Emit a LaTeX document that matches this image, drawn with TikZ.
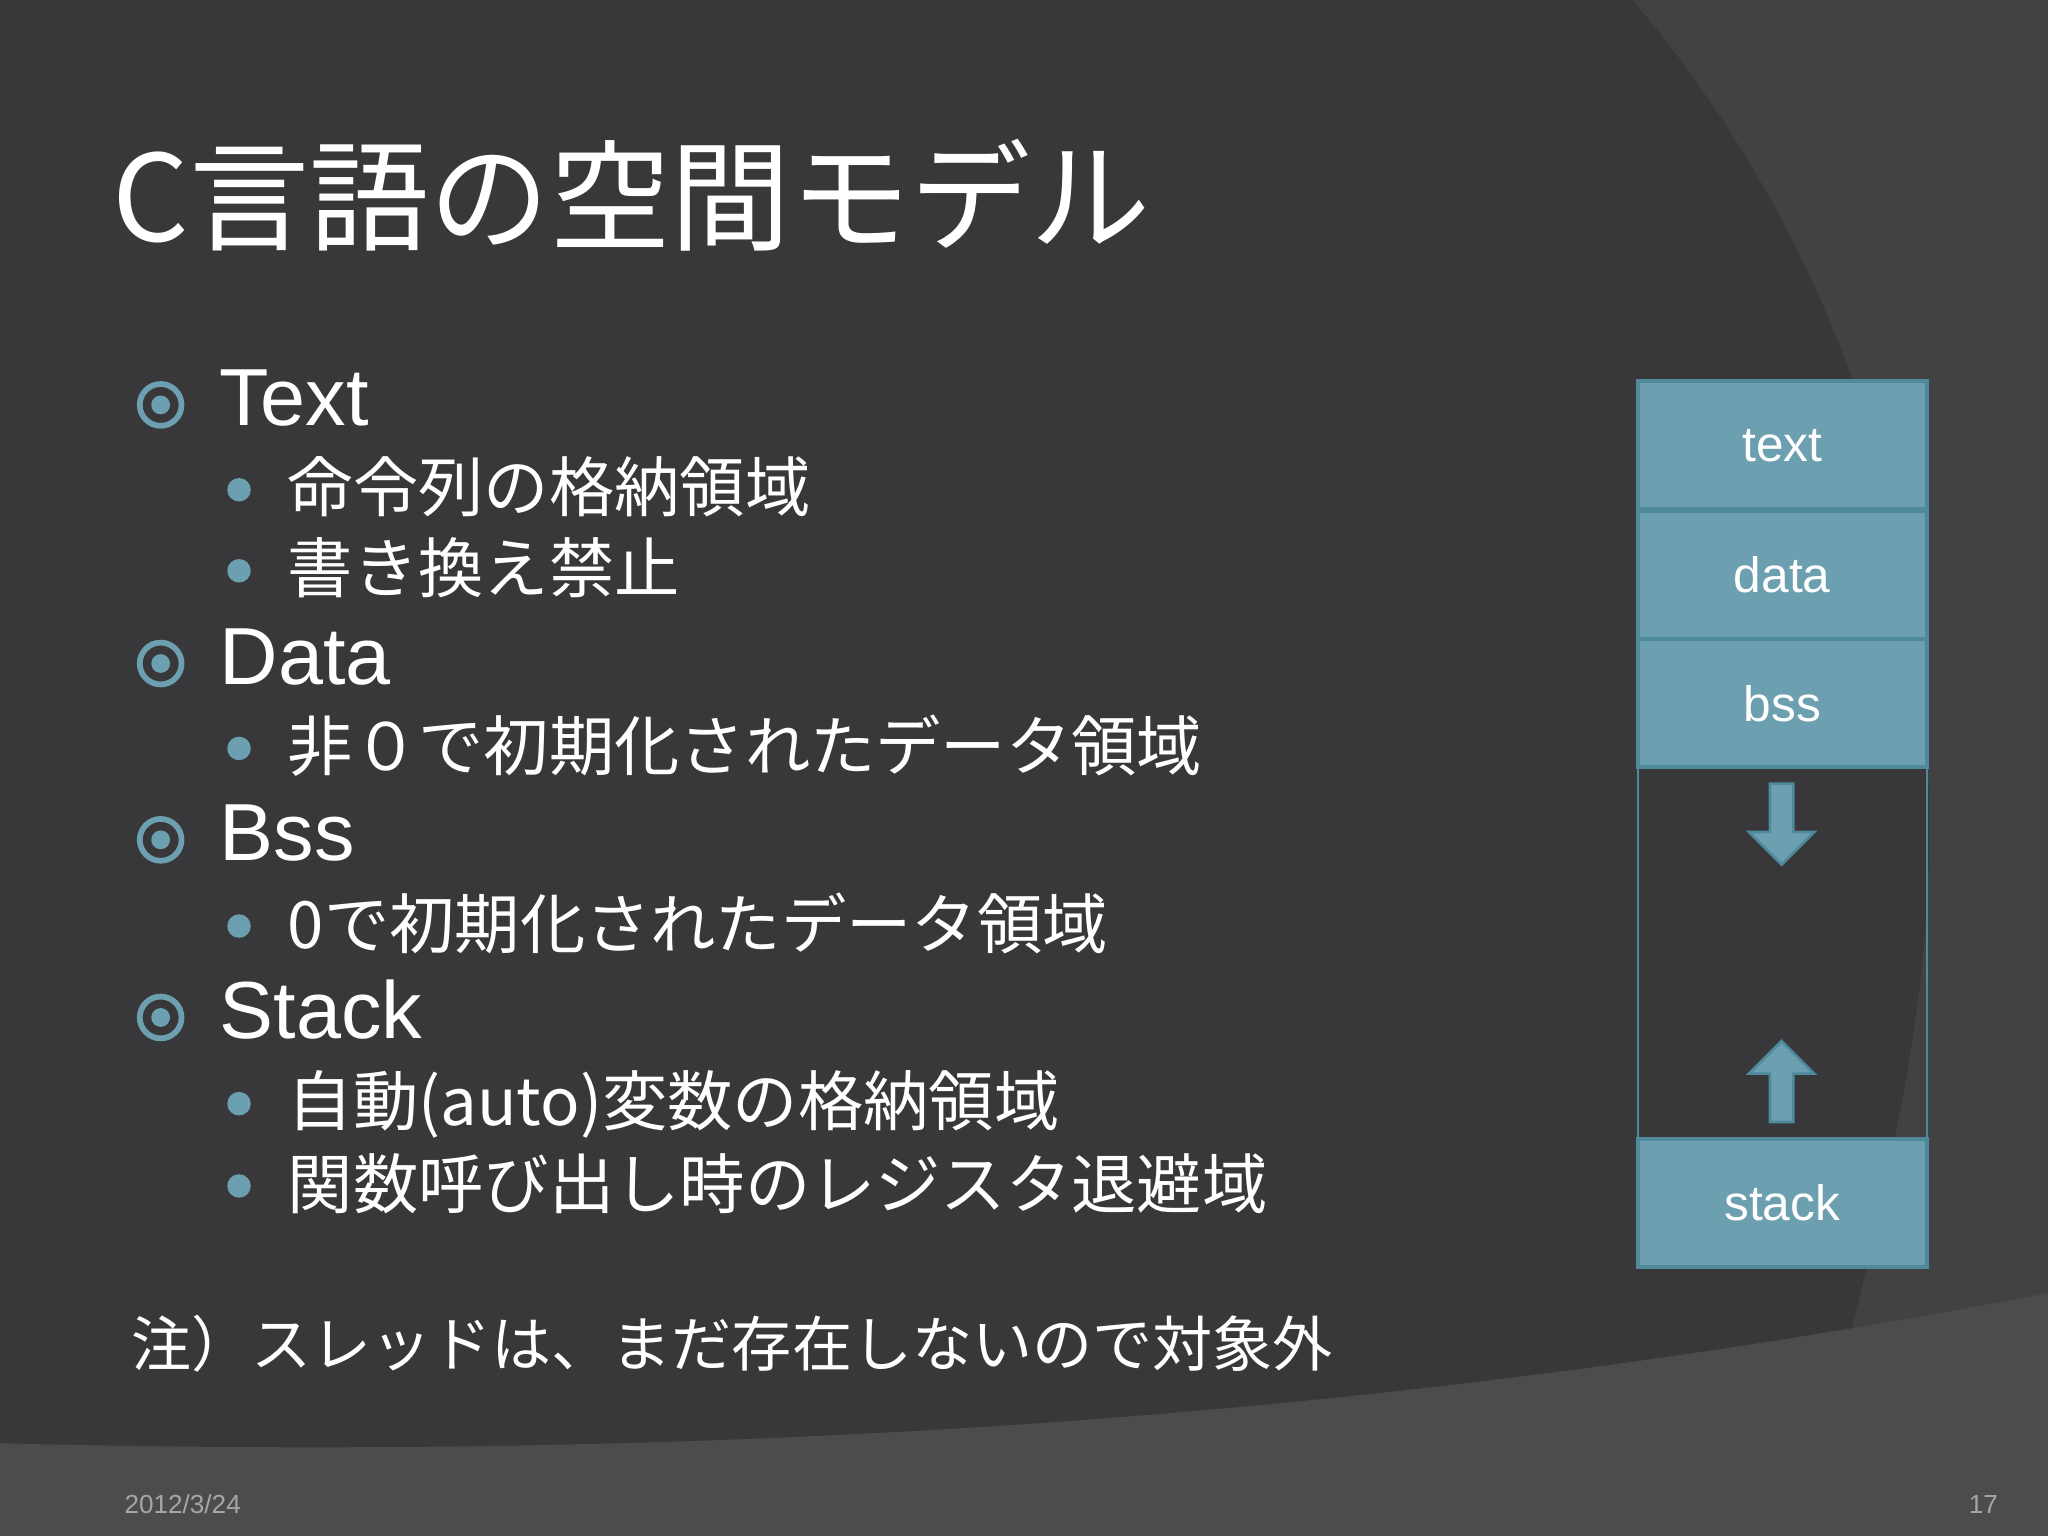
\documentclass[tikz,border=0pt]{standalone}
\usepackage{fontspec}
\setmainfont{Liberation Sans}
\newfontfamily\cjk{Noto Sans CJK JP}
\definecolor{bg}{HTML}{38383A}
\definecolor{bg2}{HTML}{424244}
\definecolor{bg3}{HTML}{4C4C4E}
\definecolor{acc}{HTML}{6C9FAF}
\definecolor{accd}{HTML}{4E8A9C}
\begin{document}
\begin{tikzpicture}[x=0.5pt,y=-0.5pt,
  lone/.style={anchor=base west,text=white,font=\fontsize{31}{31}\selectfont,inner sep=0},
  ltwo/.style={anchor=base west,text=white,font=\cjk\fontsize{25}{25}\selectfont,inner sep=0},
  seg/.style={draw=accd,line width=1.5pt,fill=acc,text=white,font=\fontsize{19}{19}\selectfont},
  bigarr/.style={draw=accd,fill=acc,line width=1pt}]
\fill[bg] (0,0) rectangle (1568,1176);
\fill[bg2] (1250,0) .. controls (1420,200) and (1490,450) .. (1475,700) .. controls (1465,850) and (1420,1000) .. (1380,1176) -- (1568,1176) -- (1568,0) -- cycle;
\fill[bg3] (0,1105) .. controls (600,1120) and (1100,1080) .. (1568,990) -- (1568,1176) -- (0,1176) -- cycle;
\useasboundingbox (0,0) rectangle (1568,1176);
\node[anchor=base west,text=white,font=\cjk\fontsize{46}{46}\selectfont,inner sep=0] (title) at (86,185) {C言語の空間モデル};
% level one
\foreach \y/\n/\t in {310/t1/Text,508/t2/Data,643/t3/Bss,779/t4/Stack}{
  \draw[acc,line width=2.2pt] (123,\y) circle (8pt);
  \fill[acc] (123,\y) circle (3.6pt);
  \node[lone] (\n) at (168,\y+16) {\t};
}
\foreach \y/\n/\t in {375/s1/命令列の格納領域,437/s2/書き換え禁止,573/s3/非０で初期化されたデータ領域,709/s4/0で初期化されたデータ領域,845/s5/自動(auto)変数の格納領域,908/s6/関数呼び出し時のレジスタ退避域}{
  \fill[acc] (183,\y) circle (4.5pt);
  \node[ltwo] (\n) at (220,\y+17) {\t};
}
\node[anchor=base west,text=white,font=\cjk\fontsize{23}{23}\selectfont,inner sep=0] (note) at (100,1046) {注）スレッドは、まだ存在しないので対象外};
\node[anchor=base west,text=gray!70,font=\fontsize{10}{10}\selectfont,inner sep=0] (date) at (95,1159) {2012/3/24};
\node[anchor=base east,text=gray!70,font=\fontsize{10}{10}\selectfont,inner sep=0] (pg) at (1530,1159) {17};
% memory boxes
\node[seg,minimum width=110.5pt,minimum height=49pt] (tx) at (1364.5,341) {text};
\node[seg,minimum width=110.5pt,minimum height=49pt] (da) at (1364.5,440) {data};
\node[seg,minimum width=110.5pt,minimum height=49pt] (bs) at (1364.5,538.5) {bss};
\node[draw=accd,line width=0.8pt,minimum width=110.5pt,minimum height=142pt] (gap) at (1364.5,730) {};
\node[seg,minimum width=110.5pt,minimum height=49pt] (st) at (1364.5,921) {stack};
\draw[bigarr] (1355,600) -- (1373,600) -- (1373,637) -- (1389,637) -- (1364,662) -- (1339,637) -- (1355,637) -- cycle;
\draw[bigarr] (1355,859) -- (1373,859) -- (1373,822) -- (1389,822) -- (1364,797) -- (1339,822) -- (1355,822) -- cycle;
\end{tikzpicture}
\end{document}
